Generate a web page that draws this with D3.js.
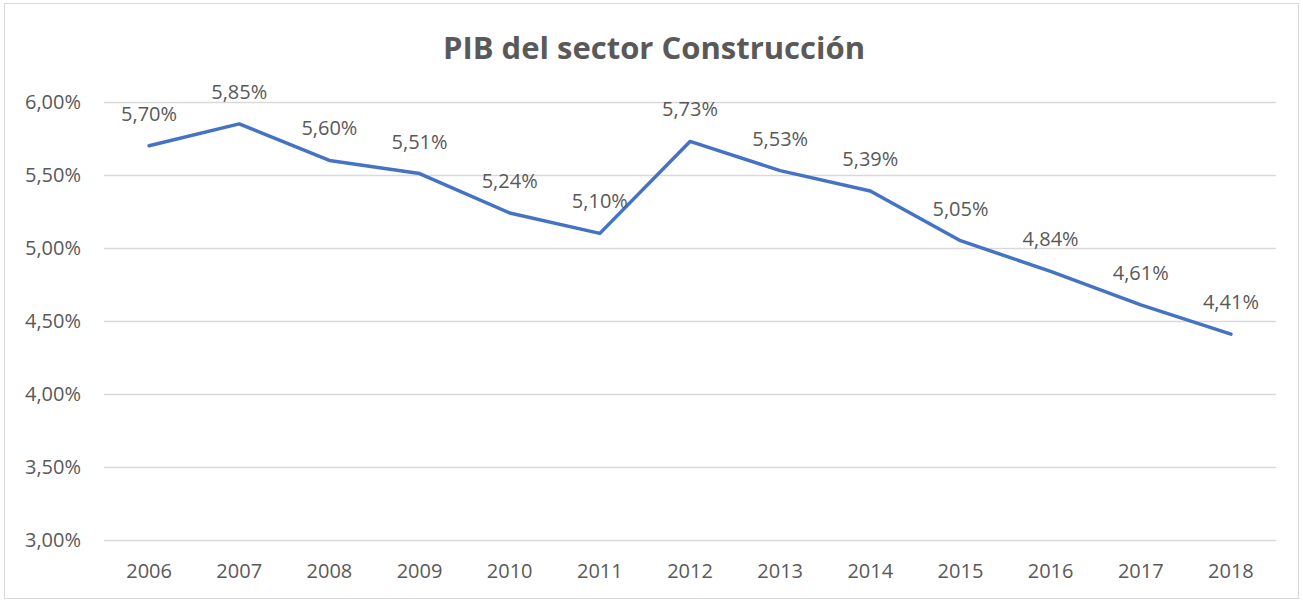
<!DOCTYPE html>
<html>
<head>
<meta charset="utf-8">
<script src="https://cdn.jsdelivr.net/npm/d3@7"></script>
<style>
  body { margin: 0; background: #fff; }
  text { font-family: "Open Sans", "Noto Sans", sans-serif; }
</style>
</head>
<body>
<div id="chart"></div>
<script>
// chart data
const years = ["2006","2007","2008","2009","2010","2011","2012","2013","2014","2015","2016","2017","2018"];
const values = [5.70, 5.85, 5.60, 5.51, 5.24, 5.10, 5.73, 5.53, 5.39, 5.05, 4.84, 4.61, 4.41];
const yTicks = [3.0, 3.5, 4.0, 4.5, 5.0, 5.5, 6.0];
const title = "PIB del sector Construcción";

const width = 1303;
const height = 602;
const margin = {top: 102, right: 27, bottom: 62, left: 104};

const textColour = "#595959";
const gridColour = "#d9d9d9";
const lineColour = "#4472C4";
const labelSize = "20px";

const fmt = d => d.toFixed(2).replace(".", ",") + "%";

const svg = d3.select("#chart").append("svg")
  .attr("width", width)
  .attr("height", height);

// outer border of the chart area
svg.append("rect")
  .attr("x", 4.5).attr("y", 3.5)
  .attr("width", width - 9).attr("height", height - 7)
  .attr("fill", "#fff")
  .attr("stroke", gridColour);

const x = d3.scaleBand()
  .domain(years)
  .range([margin.left, width - margin.right]);

const y = d3.scaleLinear()
  .domain([3, 6])
  .range([height - margin.bottom, margin.top]);

// gridlines + y labels
const yAxis = g => g
  .attr("transform", `translate(${margin.left}, 0)`)
  .call(d3.axisLeft(y).tickValues(yTicks).tickFormat(fmt)
    .tickSize(-(width - margin.left - margin.right)).tickPadding(23))
  .call(g => g.select(".domain").remove())
  .call(g => g.selectAll(".tick line").attr("stroke", gridColour).attr("stroke-width", 1.3))
  .call(g => g.selectAll(".tick text").attr("fill", textColour).attr("font-size", labelSize));
svg.append("g").call(yAxis);

// x labels
const xAxis = g => g
  .attr("transform", `translate(0, ${height - margin.bottom})`)
  .call(d3.axisBottom(x).tickSize(0).tickPadding(24))
  .call(g => g.select(".domain").remove())
  .call(g => g.selectAll(".tick text").attr("fill", textColour).attr("font-size", labelSize));
svg.append("g").call(xAxis);

const cx = (d, i) => x(years[i]) + x.bandwidth() / 2;

// the line
const line = d3.line()
  .x(cx)
  .y(d => y(d));

svg.append("path")
  .datum(values)
  .attr("fill", "none")
  .attr("stroke", lineColour)
  .attr("stroke-width", 3.5)
  .attr("stroke-linejoin", "round")
  .attr("stroke-linecap", "round")
  .attr("d", line);

// data labels above each point
svg.append("g")
  .selectAll("text")
  .data(values)
  .join("text")
    .attr("x", cx)
    .attr("y", d => y(d) - 25)
    .attr("text-anchor", "middle")
    .attr("fill", textColour)
    .attr("font-size", labelSize)
    .text(fmt);

// title
svg.append("text")
  .attr("x", 654)
  .attr("y", 59)
  .attr("text-anchor", "middle")
  .attr("fill", textColour)
  .attr("font-size", "31px")
  .attr("font-weight", "bold")
  .text(title);
</script>
</body>
</html>
